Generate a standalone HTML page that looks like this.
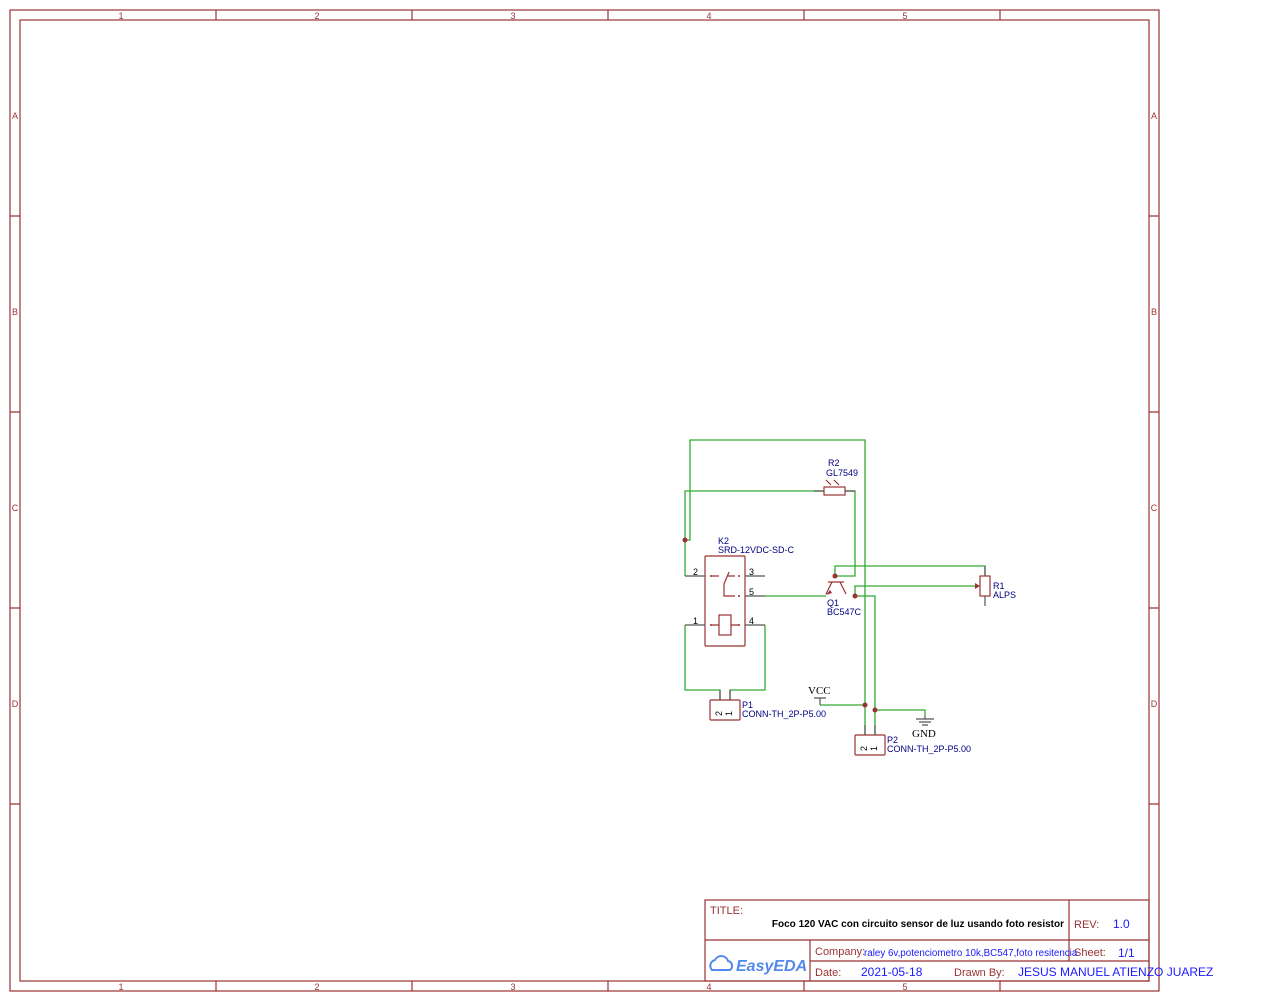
<!DOCTYPE html><html><head><style>body{margin:0;background:#fff}svg{display:block}</style></head><body>
<svg width="1274" height="1002" viewBox="0 0 1274 1002" xmlns="http://www.w3.org/2000/svg" font-family="Liberation Sans, DejaVu Sans, sans-serif">
<g fill="none" stroke="#993333" stroke-width="1.2">
<rect x="10" y="10" width="1149" height="981"/>
<rect x="20" y="20" width="1129" height="961"/>
<path d="M216 10v10M412 10v10M608 10v10M804 10v10M1000 10v10M216 981v10M412 981v10M608 981v10M804 981v10M1000 981v10M10 216h10M10 412h10M10 608h10M10 804h10M1149 216h10M1149 412h10M1149 608h10M1149 804h10"/>
</g>
<g fill="#993333" font-size="9" text-anchor="middle">
<text x="121" y="19">1</text><text x="317" y="19">2</text><text x="513" y="19">3</text><text x="709" y="19">4</text><text x="905" y="19">5</text>
<text x="121" y="990">1</text><text x="317" y="990">2</text><text x="513" y="990">3</text><text x="709" y="990">4</text><text x="905" y="990">5</text>
<text x="15" y="119">A</text><text x="15" y="315">B</text><text x="15" y="511">C</text><text x="15" y="707">D</text>
<text x="1154" y="119">A</text><text x="1154" y="315">B</text><text x="1154" y="511">C</text><text x="1154" y="707">D</text>
</g>
<g fill="none" stroke="#33aa33" stroke-width="1.3">
<path d="M685 540H690V440H865V735"/>
<path d="M685 576V491H824M845 491H855V576H835"/>
<path d="M765 596H826"/>
<path d="M685 625V690H720V700M765 625V690H730V700"/>
<path d="M835 576V566H985V576M855 596V586H975M855 596H875V735M875 710H925V716M820 705H865"/>
</g>
<g fill="none" stroke="#993333" stroke-width="1.2">
<rect x="824" y="487" width="21" height="8"/>
<path d="M826 480l5 5M834 480l5 5"/>
<rect x="705" y="556" width="40" height="90" rx="1"/>
<path d="M711 576h8M727 576h8M729 572l-5 12v12h11"/>
<rect x="719" y="615" width="12" height="20"/>
<path d="M711 625h8M731 625h8"/>
<rect x="710" y="700" width="30" height="20" rx="1"/>
<rect x="855" y="735" width="30" height="20" rx="1"/>
<rect x="980" y="576" width="10" height="20"/>
<path d="M828 582h16M832 582l-6 12M840 582l6 12"/>
</g>
<g stroke="#555" stroke-width="1.2" fill="none">
<path d="M685 576h20M745 576h20M745 596h20M685 625h20M745 625h20M720 690v10M730 690v10M865 725v10M875 725v10M985 566v10M985 596v10M845 491h10M814 491h10"/>
<path d="M820 698v7M814 698h12M925 716v3M916 719h18M919 722h12M922 725h6"/>
</g>
<g fill="#993333"><circle cx="685" cy="540" r="2.5"/><circle cx="835" cy="576" r="2.5"/><circle cx="855" cy="596" r="2.5"/><circle cx="865" cy="705" r="2.5"/><circle cx="875" cy="710" r="2.5"/>
<circle cx="711" cy="576" r="1"/><circle cx="739" cy="576" r="1"/><circle cx="739" cy="596" r="1"/><circle cx="711" cy="625" r="1"/><circle cx="739" cy="625" r="1"/>
<path d="M975 583l5 3-5 3z"/><path d="M826 595l4-5 2 3z"/></g>
<g font-size="9" fill="#000">
<text x="693" y="575">2</text><text x="749" y="575">3</text><text x="749" y="595">5</text><text x="693" y="624">1</text><text x="749" y="624">4</text>
<text transform="translate(722,716) rotate(-90)">2</text><text transform="translate(732,716) rotate(-90)">1</text>
<text transform="translate(867,751) rotate(-90)">2</text><text transform="translate(877,751) rotate(-90)">1</text>
</g>
<g font-size="9" fill="#000080">
<text x="828" y="466">R2</text><text x="826" y="476">GL7549</text>
<text x="718" y="544">K2</text><text x="718" y="553">SRD-12VDC-SD-C</text>
<text x="827" y="606">Q1</text><text x="827" y="615">BC547C</text>
<text x="993" y="589">R1</text><text x="993" y="598">ALPS</text>
<text x="742" y="708">P1</text><text x="742" y="717">CONN-TH_2P-P5.00</text>
<text x="887" y="743">P2</text><text x="887" y="752">CONN-TH_2P-P5.00</text>
</g>
<g font-family="Liberation Serif, serif" font-size="11" fill="#000"><text x="808" y="694">VCC</text><text x="912" y="737">GND</text></g>
<g fill="none" stroke="#993333" stroke-width="1.2">
<rect x="705" y="900" width="444" height="81"/>
<path d="M705 940h444M810 961h339M810 940v41M1069 900v61"/>
</g>
<g font-size="11" fill="#993333"><text x="710" y="914">TITLE:</text><text x="1074" y="928">REV:</text><text x="815" y="955">Company:</text><text x="1074" y="956">Sheet:</text><text x="815" y="976">Date:</text><text x="954" y="976">Drawn By:</text></g>
<text x="1064" y="927" font-size="10" font-weight="bold" text-anchor="end" fill="#000">Foco 120 VAC con circuito sensor de luz usando foto resistor</text>
<g fill="#1a1aff"><text x="1113" y="928" font-size="12">1.0</text><text x="1118" y="957" font-size="12">1/1</text><text x="864" y="956" font-size="9.8">raley 6v,potenciometro 10k,BC547,foto resitencia</text><text x="861" y="976" font-size="12">2021-05-18</text><text x="1018" y="976" font-size="12">JESUS MANUEL ATIENZO JUAREZ</text></g>
<g fill="#5588ee"><text x="736" y="971" font-size="16" font-weight="bold" font-style="italic">EasyEDA</text>
<path d="M712 970a6 6 0 0 1 3-10a7 7 0 0 1 13 1a5 5 0 0 1 2 9z" fill="none" stroke="#5588ee" stroke-width="2"/></g>
</svg></body></html>
